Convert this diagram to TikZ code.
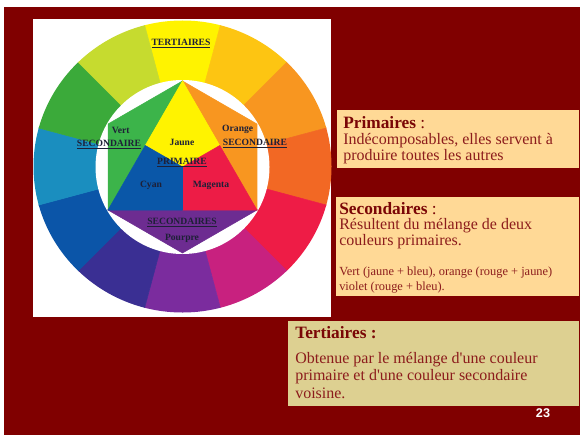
\documentclass[tikz,border=0pt]{standalone}
\usepackage{fontspec}
\setmainfont{Liberation Serif}
\setsansfont{Liberation Sans}
\usepackage{xcolor}
\usepackage{tikz}
\usetikzlibrary{calc}

\definecolor{fondRouge}{RGB}{128,0,0}
\definecolor{boiteOr}{RGB}{255,217,150}
\definecolor{boiteKaki}{RGB}{221,208,145}
\definecolor{titreRouge}{RGB}{122,6,6}
\definecolor{texteRouge}{RGB}{140,28,28}
\definecolor{encre}{RGB}{30,32,55}
% roue
\definecolor{rJaune}{RGB}{255,243,0}
\definecolor{rOr}{RGB}{253,197,18}
\definecolor{rOrange}{RGB}{248,150,32}
\definecolor{rVermillon}{RGB}{242,104,36}
\definecolor{rRouge}{RGB}{238,28,70}
\definecolor{rMagenta}{RGB}{200,33,127}
\definecolor{rPourpre}{RGB}{123,44,158}
\definecolor{rIndigo}{RGB}{58,47,147}
\definecolor{rBleu}{RGB}{11,85,168}
\definecolor{rCyan}{RGB}{26,142,191}
\definecolor{rVert}{RGB}{59,170,58}
\definecolor{rAnis}{RGB}{198,219,47}
\definecolor{iVert}{RGB}{60,180,74}
\definecolor{iBleu}{RGB}{10,87,168}
\definecolor{iRouge}{RGB}{237,28,70}
\definecolor{iPourpre}{RGB}{109,44,145}

\begin{document}
\begin{tikzpicture}[x=0.75pt,y=0.75pt,yscale=-1,xscale=1,
    etiq/.style={font=\bfseries\fontsize{7.2}{8}\selectfont, text=encre, inner sep=0pt, anchor=base},
    titre/.style={font=\bfseries\fontsize{13}{12}\selectfont, text=titreRouge, inner sep=0pt, anchor=base west},
    corps/.style={font=\fontsize{12}{12}\selectfont, text=texteRouge, inner sep=0pt, anchor=base west, align=left},
    petit/.style={font=\fontsize{9.3}{11.25}\selectfont, text=texteRouge, inner sep=0pt, anchor=base west, align=left}]
        \useasboundingbox (0,0) rectangle (580,435);
        \fill[fondRouge] (4,7) rectangle (580,435);
        \fill[white] (33,19) rectangle (331,317);

        % roue des tertiaires
        \coordinate (C) at (182.5,166.5);
        \begin{scope}
            \clip (C) ellipse [x radius=149, y radius=146];
            \foreach \a/\col in {-90/rJaune,-60/rOr,-30/rOrange,0/rVermillon,30/rRouge,60/rMagenta,90/rPourpre,120/rIndigo,150/rBleu,180/rCyan,210/rVert,240/rAnis}
                \filldraw[\col, line width=0.4] (C) -- ++(\a-15:300) -- ($(C)+(\a+15:300)$) -- cycle;
        \end{scope}
        \fill[white] (182.5,167) circle [radius=87];

        % hexagone
        \coordinate (O) at (182.5,167);
        \coordinate (T) at ($(O)+(-90:86)$);
        \coordinate (HD) at ($(O)+(-30:86)$);
        \coordinate (BD) at ($(O)+(30:86)$);
        \coordinate (B) at ($(O)+(90:86)$);
        \coordinate (BG) at ($(O)+(150:86)$);
        \coordinate (HG) at ($(O)+(210:86)$);
        \coordinate (MG) at ($(T)!0.5!(BG)$);
        \coordinate (MD) at ($(T)!0.5!(BD)$);
        \coordinate (MB) at ($(BG)!0.5!(BD)$);
        \filldraw[iVert, line width=0.4] (T) -- (HG) -- (BG) -- cycle;
        \filldraw[rOrange, line width=0.4] (T) -- (HD) -- (BD) -- cycle;
        \filldraw[iPourpre, line width=0.4] (BG) -- (B) -- (BD) -- cycle;
        \filldraw[rJaune, line width=0.4] (T) -- (MD) -- (O) -- (MG) -- cycle;
        \filldraw[iRouge, line width=0.4] (MD) -- (BD) -- (MB) -- (O) -- cycle;
        \filldraw[iBleu, line width=0.4] (MG) -- (O) -- (MB) -- (BG) -- cycle;

        \node[etiq] (tert) at (181,45.7) {\underline{TERTIAIRES}};
        \node[etiq] (vert) at (120.7,133.3) {Vert};
        \node[etiq] (secG) at (109,146.7) {\underline{SECONDAIRE}};
        \node[etiq] (jaune) at (182,145.7) {Jaune};
        \node[etiq] (orange) at (237.7,131.7) {Orange};
        \node[etiq] (secD) at (255,145) {\underline{SECONDAIRE}};
        \node[etiq] (prim) at (182,164) {\underline{PRIMAIRE}};
        \node[etiq] (cyan) at (151,187.7) {Cyan};
        \node[etiq] (magenta) at (211,187.7) {Magenta};
        \node[etiq] (secB) at (182,224.3) {\underline{SECONDAIRES}};
        \node[etiq] (pourpre) at (182,240.3) {Pourpre};

        % boites de texte
        \fill[boiteOr] (337,110) rectangle (579,168);
        \fill[boiteOr] (336,197) rectangle (579,296);
        \fill[boiteKaki] (288,321) rectangle (579,406);

        \node[titre] (primT) at (343,128) {Primaires\textmd{ :}};
        \node[corps] (primC) at (343,160) {Indécomposables, elles servent à\\produire toutes les autres};
        \node[titre] (secT) at (339,214) {Secondaires\textmd{ :}};
        \node[corps] (secC) at (339,245) {Résultent du mélange de deux\\couleurs primaires.};
        \node[petit] (secP) at (339,290) {Vert (jaune + bleu), orange (rouge + jaune)\\violet (rouge + bleu).};
        \node[titre] (terT) at (295,338) {Tertiaires :};
        \node[corps, font=\fontsize{12}{13.1}\selectfont] (terC) at (295,398) {Obtenue par le mélange d\textquotesingle une couleur\\primaire et d\textquotesingle une couleur secondaire\\voisine.};

        \node[font=\sffamily\bfseries\fontsize{9.5}{11}\selectfont, text=white, inner sep=0pt] (page) at (543,413.5) {23};
\end{tikzpicture}
\end{document}
